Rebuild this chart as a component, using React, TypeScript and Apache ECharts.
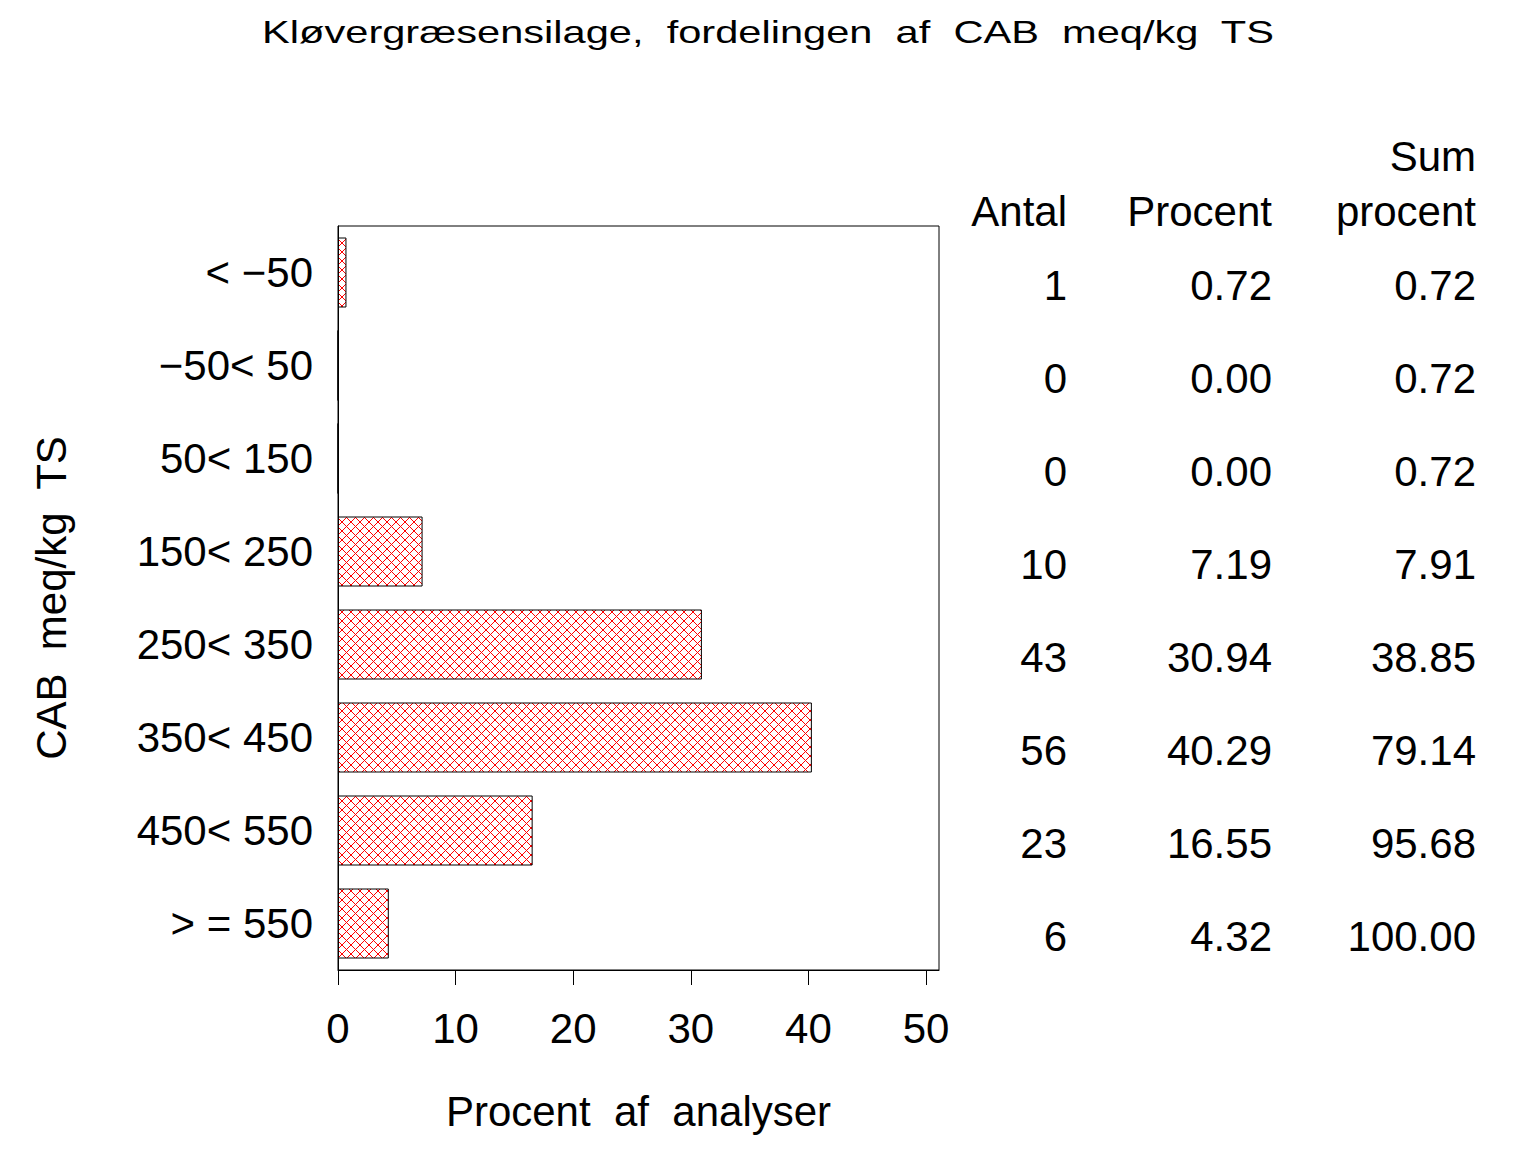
import React, { useEffect, useRef } from 'react';
import * as echarts from 'echarts';

const titleText = 'Kløvergræsensilage,  fordelingen  af  CAB  meq/kg  TS';
const categories = ['< −50', '−50< 50', '50< 150', '150< 250', '250< 350', '350< 450', '450< 550', '> = 550'];
const percentValues = [0.72, 0, 0, 7.19, 30.94, 40.29, 16.55, 4.32];
const countLabels = ['1', '0', '0', '10', '43', '56', '23', '6'];
const percentLabels = ['0.72', '0.00', '0.00', '7.19', '30.94', '40.29', '16.55', '4.32'];
const cumulativeLabels = ['0.72', '0.72', '0.72', '7.91', '38.85', '79.14', '95.68', '100.00'];
const xTicks = [0, 10, 20, 30, 40, 50];

const FONT = '"Liberation Sans", Arial, Helvetica, sans-serif';
const FS = 42;

const hatchSvg =
  "<svg xmlns='http://www.w3.org/2000/svg' width='9' height='9'>" +
  "<rect width='9' height='9' fill='white'/>" +
  "<path d='M-1 -1L10 10M10 -1L-1 10' stroke='red' stroke-width='1'/>" +
  '</svg>';
const hatchUrl = 'data:image/svg+xml;charset=utf-8,' + encodeURIComponent(hatchSvg);

function tableAxis(offset: number, labels: string[]) {
  return {
    type: 'category',
    data: categories,
    inverse: true,
    position: 'right',
    offset,
    gridIndex: 0,
    axisLine: { show: false },
    axisTick: { show: false },
    splitLine: { show: false },
    axisLabel: {
      interval: 0,
      formatter: (_v: string, i: number) => labels[i],
      align: 'right',
      verticalAlign: 'top',
      lineHeight: 25,
      margin: 0,
      fontSize: FS,
      fontFamily: FONT,
      color: '#000',
    },
  };
}

export default function App() {
  const ref = useRef<HTMLDivElement>(null);
  useEffect(() => {
    if (!ref.current) return;
    const chart = echarts.init(ref.current, null, { renderer: 'svg' });
    const headerStyle = (text: string) => ({
      text,
      align: 'right',
      verticalAlign: 'middle',
      fontSize: FS,
      fontFamily: FONT,
      fill: '#000',
    });
    chart.setOption({
      animation: false,
      backgroundColor: '#fff',
      grid: {
        left: 338,
        top: 226,
        width: 601,
        height: 744,
        show: true,
        borderColor: '#000',
        borderWidth: 1,
        backgroundColor: 'transparent',
      },
      xAxis: {
        type: 'value',
        min: 0,
        max: 51.1,
        interval: 10,
        name: 'Procent  af  analyser',
        nameLocation: 'middle',
        nameGap: 120,
        nameTextStyle: { fontSize: FS, fontFamily: FONT, color: '#000' },
        axisLine: { show: true, lineStyle: { color: '#000', width: 1 } },
        axisTick: { show: true, length: 15, customValues: xTicks, lineStyle: { color: '#000' } },
        axisLabel: { customValues: xTicks, margin: 37, fontSize: FS, fontFamily: FONT, color: '#000' },
        splitLine: { show: false },
      },
      yAxis: [
        {
          type: 'category',
          data: categories,
          inverse: true,
          name: 'CAB  meq/kg  TS',
          nameLocation: 'middle',
          nameGap: 266,
          nameTextStyle: { fontSize: FS, fontFamily: FONT, color: '#000' },
          axisLine: { show: true, lineStyle: { color: '#000' } },
          axisTick: { show: false },
          axisLabel: { interval: 0, margin: 25, fontSize: FS, fontFamily: FONT, color: '#000' },
          splitLine: { show: false },
        },
        tableAxis(128, countLabels),
        tableAxis(333, percentLabels),
        tableAxis(537, cumulativeLabels),
      ],
      series: [
        {
          type: 'bar',
          data: percentValues,
          barWidth: 70,
          itemStyle: {
            color: { image: hatchUrl, repeat: 'repeat', imageWidth: 9, imageHeight: 9 },
            borderColor: '#000',
            borderWidth: 1,
          },
        },
      ],
      graphic: [
        {
          type: 'text',
          x: 768,
          y: 32,
          scaleX: 1.3,
          style: {
            text: titleText,
            align: 'center',
            verticalAlign: 'middle',
            fontSize: 32,
            fontFamily: FONT,
            fill: '#000',
          },
        },
        { type: 'text', x: 1476, y: 156, style: headerStyle('Sum') },
        { type: 'text', x: 1067, y: 211, style: headerStyle('Antal') },
        { type: 'text', x: 1272, y: 211, style: headerStyle('Procent') },
        { type: 'text', x: 1476, y: 211, style: headerStyle('procent') },
      ],
    });
    return () => chart.dispose();
  }, []);
  return (
    <div
      ref={ref}
      style={{ position: 'absolute', left: 0, top: 0, width: 1536, height: 1152, background: '#fff' }}
    />
  );
}
